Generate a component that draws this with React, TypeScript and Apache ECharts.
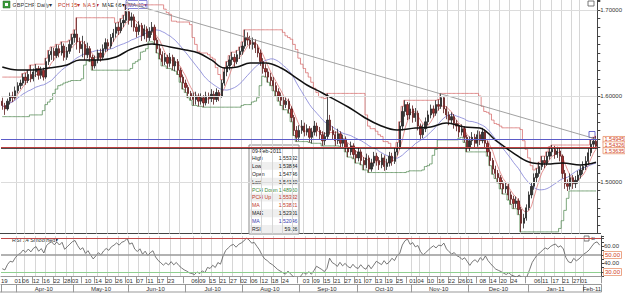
import React, { useEffect, useRef } from "react";
import * as echarts from "echarts";

// candles: [open, close, low, high]
const mar10 = [
  [1.594, 1.589, 1.584, 1.598], [1.589, 1.585, 1.578, 1.592], [1.585, 1.594, 1.583, 1.597],
  [1.594, 1.6, 1.59, 1.604], [1.6, 1.598, 1.593, 1.605], [1.598, 1.606, 1.596, 1.611],
];
const apr10 = [
  [1.606, 1.612, 1.603, 1.616], [1.612, 1.615, 1.608, 1.619], [1.615, 1.622, 1.612, 1.626],
  [1.622, 1.618, 1.613, 1.627], [1.618, 1.625, 1.615, 1.63], [1.625, 1.62, 1.616, 1.636],
  [1.62, 1.628, 1.617, 1.632], [1.628, 1.632, 1.622, 1.637], [1.632, 1.624, 1.619, 1.635],
  [1.624, 1.63, 1.62, 1.634], [1.63, 1.622, 1.618, 1.633], [1.622, 1.64, 1.62, 1.644],
  [1.64, 1.648, 1.636, 1.653], [1.648, 1.652, 1.642, 1.657], [1.652, 1.647, 1.641, 1.656],
  [1.647, 1.655, 1.644, 1.66], [1.655, 1.65, 1.645, 1.659], [1.65, 1.658, 1.647, 1.663],
  [1.658, 1.645, 1.641, 1.661], [1.645, 1.652, 1.642, 1.657], [1.652, 1.66, 1.649, 1.665],
  [1.66, 1.668, 1.656, 1.672],
];
const may10 = [
  [1.668, 1.672, 1.662, 1.677], [1.672, 1.663, 1.654, 1.691], [1.663, 1.655, 1.65, 1.668],
  [1.655, 1.66, 1.645, 1.67], [1.66, 1.648, 1.642, 1.664], [1.648, 1.655, 1.644, 1.662],
  [1.655, 1.645, 1.64, 1.658], [1.645, 1.635, 1.63, 1.648], [1.635, 1.642, 1.632, 1.647],
  [1.642, 1.65, 1.638, 1.654], [1.65, 1.645, 1.64, 1.655], [1.645, 1.655, 1.642, 1.66],
  [1.655, 1.662, 1.651, 1.667], [1.662, 1.658, 1.652, 1.666], [1.658, 1.668, 1.655, 1.672],
  [1.668, 1.673, 1.663, 1.678], [1.673, 1.68, 1.668, 1.685], [1.68, 1.676, 1.671, 1.686],
  [1.676, 1.685, 1.673, 1.69], [1.685, 1.688, 1.68, 1.694], [1.688, 1.698, 1.685, 1.706],
];
const jun10 = [
  [1.698, 1.688, 1.683, 1.701], [1.688, 1.692, 1.68, 1.697], [1.692, 1.68, 1.675, 1.695],
  [1.68, 1.675, 1.668, 1.684], [1.675, 1.682, 1.671, 1.687], [1.682, 1.67, 1.664, 1.685],
  [1.67, 1.678, 1.666, 1.683], [1.678, 1.668, 1.663, 1.681], [1.668, 1.675, 1.664, 1.68],
  [1.675, 1.68, 1.671, 1.686], [1.68, 1.665, 1.66, 1.683], [1.665, 1.655, 1.65, 1.668],
  [1.655, 1.648, 1.643, 1.66], [1.648, 1.64, 1.635, 1.652], [1.64, 1.645, 1.636, 1.65],
  [1.645, 1.638, 1.632, 1.648], [1.638, 1.645, 1.634, 1.65], [1.645, 1.635, 1.63, 1.648],
  [1.635, 1.64, 1.629, 1.645], [1.64, 1.63, 1.625, 1.643], [1.63, 1.622, 1.616, 1.633],
  [1.622, 1.615, 1.608, 1.625],
];
const jul10 = [
  [1.615, 1.61, 1.604, 1.619], [1.61, 1.603, 1.598, 1.613], [1.603, 1.6, 1.595, 1.606],
  [1.6, 1.596, 1.589, 1.604], [1.596, 1.6, 1.59, 1.605], [1.6, 1.594, 1.588, 1.603],
  [1.594, 1.598, 1.59, 1.603], [1.598, 1.592, 1.587, 1.601], [1.592, 1.6, 1.589, 1.605],
  [1.6, 1.597, 1.591, 1.604], [1.597, 1.602, 1.593, 1.608], [1.602, 1.596, 1.59, 1.606],
  [1.596, 1.604, 1.593, 1.609], [1.604, 1.6, 1.594, 1.607], [1.6, 1.615, 1.598, 1.619],
  [1.615, 1.628, 1.612, 1.633], [1.628, 1.635, 1.623, 1.64], [1.635, 1.642, 1.63, 1.647],
  [1.642, 1.645, 1.636, 1.651], [1.645, 1.64, 1.634, 1.649], [1.64, 1.648, 1.637, 1.653],
  [1.648, 1.652, 1.643, 1.657],
];
const aug10 = [
  [1.652, 1.658, 1.648, 1.663], [1.658, 1.668, 1.655, 1.677], [1.668, 1.665, 1.659, 1.674],
  [1.665, 1.66, 1.655, 1.67], [1.66, 1.662, 1.654, 1.668], [1.662, 1.656, 1.65, 1.666],
  [1.656, 1.65, 1.645, 1.66], [1.65, 1.64, 1.635, 1.654], [1.64, 1.632, 1.626, 1.644],
  [1.632, 1.628, 1.622, 1.637], [1.628, 1.622, 1.616, 1.632], [1.622, 1.618, 1.612, 1.627],
  [1.618, 1.612, 1.606, 1.622], [1.612, 1.605, 1.6, 1.616], [1.605, 1.6, 1.594, 1.609],
  [1.6, 1.595, 1.589, 1.604], [1.595, 1.59, 1.584, 1.599], [1.59, 1.594, 1.586, 1.598],
  [1.594, 1.585, 1.58, 1.597], [1.585, 1.575, 1.57, 1.588], [1.575, 1.56, 1.554, 1.578],
  [1.56, 1.552, 1.547, 1.565],
];
const sep10 = [
  [1.552, 1.56, 1.548, 1.566], [1.56, 1.565, 1.556, 1.572], [1.565, 1.558, 1.553, 1.569],
  [1.558, 1.562, 1.554, 1.567], [1.562, 1.552, 1.546, 1.565], [1.552, 1.558, 1.545, 1.563],
  [1.558, 1.565, 1.554, 1.571], [1.565, 1.56, 1.553, 1.569], [1.56, 1.555, 1.549, 1.564],
  [1.555, 1.548, 1.542, 1.559], [1.548, 1.553, 1.543, 1.558], [1.553, 1.572, 1.55, 1.603],
  [1.572, 1.56, 1.555, 1.578], [1.56, 1.555, 1.549, 1.565], [1.555, 1.548, 1.542, 1.559],
  [1.548, 1.556, 1.544, 1.562], [1.556, 1.545, 1.54, 1.559], [1.545, 1.55, 1.541, 1.555],
  [1.55, 1.54, 1.535, 1.553], [1.54, 1.535, 1.529, 1.545], [1.535, 1.542, 1.531, 1.547],
  [1.542, 1.532, 1.527, 1.545],
];
const oct10 = [
  [1.532, 1.528, 1.522, 1.537], [1.528, 1.535, 1.524, 1.54], [1.535, 1.525, 1.52, 1.538],
  [1.525, 1.52, 1.514, 1.529], [1.52, 1.528, 1.516, 1.533], [1.528, 1.515, 1.511, 1.531],
  [1.515, 1.522, 1.512, 1.527], [1.522, 1.53, 1.518, 1.535], [1.53, 1.525, 1.519, 1.534],
  [1.525, 1.52, 1.514, 1.529], [1.52, 1.528, 1.516, 1.533], [1.528, 1.518, 1.513, 1.531],
  [1.518, 1.522, 1.514, 1.527], [1.522, 1.53, 1.518, 1.535], [1.53, 1.524, 1.519, 1.534],
  [1.524, 1.535, 1.521, 1.54], [1.535, 1.54, 1.531, 1.546], [1.54, 1.565, 1.538, 1.57],
  [1.565, 1.582, 1.56, 1.588], [1.582, 1.59, 1.576, 1.595], [1.59, 1.578, 1.572, 1.593],
];
const nov10 = [
  [1.578, 1.585, 1.573, 1.592], [1.585, 1.575, 1.569, 1.589], [1.575, 1.58, 1.57, 1.586],
  [1.58, 1.565, 1.56, 1.583], [1.565, 1.555, 1.549, 1.568], [1.555, 1.562, 1.551, 1.567],
  [1.562, 1.57, 1.558, 1.575], [1.57, 1.578, 1.566, 1.583], [1.578, 1.585, 1.574, 1.59],
  [1.585, 1.58, 1.575, 1.589], [1.58, 1.59, 1.577, 1.595], [1.59, 1.588, 1.583, 1.596],
  [1.588, 1.598, 1.585, 1.603], [1.598, 1.585, 1.58, 1.6], [1.585, 1.578, 1.573, 1.588],
  [1.578, 1.572, 1.566, 1.582], [1.572, 1.576, 1.568, 1.581], [1.576, 1.568, 1.562, 1.579],
  [1.568, 1.565, 1.559, 1.572], [1.565, 1.558, 1.552, 1.568], [1.558, 1.562, 1.554, 1.567],
  [1.562, 1.552, 1.546, 1.565],
];
const dec10 = [
  [1.552, 1.54, 1.535, 1.555], [1.54, 1.548, 1.536, 1.553], [1.548, 1.552, 1.543, 1.558],
  [1.552, 1.545, 1.54, 1.556], [1.545, 1.555, 1.541, 1.56], [1.555, 1.548, 1.543, 1.559],
  [1.548, 1.558, 1.545, 1.563], [1.558, 1.545, 1.54, 1.561], [1.545, 1.535, 1.53, 1.548],
  [1.535, 1.525, 1.519, 1.538], [1.525, 1.515, 1.509, 1.528], [1.515, 1.51, 1.504, 1.519],
  [1.51, 1.505, 1.499, 1.514], [1.505, 1.498, 1.492, 1.508], [1.498, 1.492, 1.486, 1.502],
  [1.492, 1.495, 1.487, 1.5], [1.495, 1.485, 1.479, 1.498], [1.485, 1.48, 1.474, 1.489],
  [1.48, 1.475, 1.469, 1.484], [1.475, 1.478, 1.47, 1.483], [1.478, 1.468, 1.462, 1.481],
  [1.468, 1.452, 1.442, 1.471], [1.452, 1.458, 1.446, 1.463],
];
const jan11 = [
  [1.458, 1.47, 1.455, 1.474], [1.47, 1.485, 1.467, 1.489], [1.485, 1.495, 1.481, 1.5],
  [1.495, 1.505, 1.491, 1.51], [1.505, 1.51, 1.5, 1.516], [1.51, 1.518, 1.506, 1.523],
  [1.518, 1.525, 1.514, 1.53], [1.525, 1.522, 1.516, 1.53], [1.522, 1.53, 1.519, 1.535],
  [1.53, 1.535, 1.526, 1.541], [1.535, 1.538, 1.53, 1.543], [1.538, 1.532, 1.527, 1.542],
  [1.532, 1.536, 1.528, 1.541], [1.536, 1.53, 1.524, 1.54], [1.53, 1.51, 1.504, 1.532],
  [1.51, 1.498, 1.492, 1.514], [1.498, 1.495, 1.4896, 1.503], [1.495, 1.505, 1.491, 1.51],
  [1.505, 1.498, 1.492, 1.508], [1.498, 1.502, 1.493, 1.507], [1.502, 1.508, 1.498, 1.513],
];
const feb11 = [
  [1.508, 1.514, 1.504, 1.519], [1.514, 1.518, 1.509, 1.524], [1.518, 1.524, 1.514, 1.53],
  [1.524, 1.534, 1.52, 1.539], [1.534, 1.544, 1.53, 1.549], [1.544, 1.5475, 1.539, 1.552],
  [1.54746, 1.5415, 1.53884, 1.55332],
];

// MAE 66 (black): [category index, price]
const maeLine = [
  [0, 1.6337], [6, 1.6302], [12, 1.6302], [18, 1.6326], [25, 1.636], [30, 1.6419],
  [38, 1.6419], [44, 1.6453], [50, 1.6547], [58, 1.6605], [65, 1.657], [71, 1.6535],
  [76, 1.65], [81, 1.6419], [86, 1.6326], [91, 1.6337], [96, 1.6384], [102, 1.6384],
  [108, 1.6326], [114, 1.6209], [118, 1.6128], [124, 1.6035], [134, 1.5872],
  [140, 1.5756], [146, 1.5663], [153, 1.5605], [160, 1.5628], [166, 1.564],
  [172, 1.5686], [179, 1.564], [185, 1.5628], [191, 1.5488], [198, 1.5337],
  [204, 1.5233], [211, 1.5209], [217, 1.5221], [224, 1.5198], [230, 1.52301],
];
// trend line drawn on the chart
const trendLine = [[48, 1.7087], [230, 1.55]];
// values of the indicator windows before the first visible bar
const pchSeedHigh = 1.622;
const pchSeedLow = 1.576;
const pchSeedUntil = 11;
const rsiSeed = [0.0025, 0.0045];

const priceLevels = [1.54945, 1.54326, 1.5415, 1.53635];
const priceTags = ["1.54945", "1.54326", "1.53635"];
const rsiLevels = [70, 50, 30];

const dateTicks = [
  "2010-04-01", "2010-04-06", "2010-04-12", "2010-04-16", "2010-04-22", "2010-04-28",
  "2010-05-03", "2010-05-10", "2010-05-14", "2010-05-20", "2010-05-26",
  "2010-06-01", "2010-06-07", "2010-06-11", "2010-06-17", "2010-06-23",
  "2010-07-06", "2010-07-09", "2010-07-15", "2010-07-21", "2010-07-27",
  "2010-08-02", "2010-08-06", "2010-08-12", "2010-08-18", "2010-08-24",
  "2010-09-03", "2010-09-09", "2010-09-15", "2010-09-21", "2010-09-27",
  "2010-10-01", "2010-10-07", "2010-10-13", "2010-10-19", "2010-10-25",
  "2010-11-01", "2010-11-04", "2010-11-10", "2010-11-16", "2010-11-22", "2010-11-26",
  "2010-12-01", "2010-12-08", "2010-12-14", "2010-12-20", "2010-12-24",
  "2011-01-06", "2011-01-11", "2011-01-17", "2011-01-21", "2011-01-27",
  "2011-02-01",
];
const gridOnlyTicks = ["2010-06-29", "2010-08-30", "2010-12-30"];
const monthNames = ["Jan", "Feb", "Mar", "Apr", "May", "Jun", "Jul", "Aug", "Sep", "Oct", "Nov", "Dec"];

const tipRows: [string, string, string][] = [
  ["High", "1.55332", "#222"],
  ["Low", "1.53884", "#222"],
  ["Open", "1.54746", "#222"],
  ["Last", "1.54150", "#222"],
  ["PCH Down", "1.48960", "#3d8b3d"],
  ["PCH Up", "1.55332", "#c0392b"],
  ["MA", "1.53821", "#c0392b"],
  ["MAE", "1.52301", "#222"],
  ["MA", "1.52046", "#3b3bb0"],
  ["RSI", "59.26", "#222"],
];

const FONT = "Liberation Sans, Arial, sans-serif";

function weekdays(from: string, to: string): string[] {
  const out: string[] = [];
  const d = new Date(from + "T00:00:00Z");
  const end = new Date(to + "T00:00:00Z");
  while (d <= end) {
    const w = d.getUTCDay();
    if (w !== 0 && w !== 6) out.push(d.toISOString().slice(0, 10));
    d.setUTCDate(d.getUTCDate() + 1);
  }
  return out;
}

function buildOption() {
  const ohlc = [...mar10, ...apr10, ...may10, ...jun10, ...jul10, ...aug10, ...sep10, ...oct10, ...nov10, ...dec10, ...jan11, ...feb11];
  const dates = weekdays("2010-03-24", "2011-02-09");
  const closes = ohlc.map((d) => d[1]);
  const sma = (n: number) =>
    closes.map((_, i) => {
      const w = closes.slice(Math.max(0, i - n + 1), i + 1);
      return +(w.reduce((a, b) => a + b, 0) / w.length).toFixed(5);
    });
  const ma5 = sma(5);
  const ma20 = sma(20);
  const pchUp = ohlc.map((_, i) => {
    let m = i < pchSeedUntil ? pchSeedHigh : -Infinity;
    for (let j = Math.max(0, i - 14); j <= i; j++) m = Math.max(m, ohlc[j][3]);
    return m;
  });
  const pchDn = ohlc.map((_, i) => {
    let m = i < pchSeedUntil ? pchSeedLow : Infinity;
    for (let j = Math.max(0, i - 14); j <= i; j++) m = Math.min(m, ohlc[j][2]);
    return m;
  });
  let ag = rsiSeed[0];
  let al = rsiSeed[1];
  const rsi = ohlc.map((d, i) => {
    const ch = i === 0 ? d[1] - d[0] : d[1] - ohlc[i - 1][1];
    ag = (ag * 13 + Math.max(ch, 0)) / 14;
    al = (al * 13 + Math.max(-ch, 0)) / 14;
    return +(100 - 100 / (1 + ag / al)).toFixed(2);
  });

  const idxOf = new Map(dates.map((d, i) => [d, i]));
  const labelIdx = dateTicks.map((d) => idxOf.get(d)).filter((v) => v !== undefined) as number[];
  const labelSet = new Set(labelIdx);
  const gridSet = new Set([...labelIdx, ...(gridOnlyTicks.map((d) => idxOf.get(d)).filter((v) => v !== undefined) as number[])]);
  const sepSet = new Set<number>();
  for (let k = 0; k + 1 < labelIdx.length; k++) sepSet.add(Math.round((labelIdx[k] + labelIdx[k + 1]) / 2 + 0.5));
  const monthStart = new Set<number>();
  const monthMid = new Map<number, string>();
  let cur = "";
  let startI = 0;
  const flush = (endI: number) => {
    if (cur && cur !== "2010-03") {
      const mid = Math.floor((startI + endI) / 2);
      const [y, m] = cur.split("-");
      monthMid.set(mid, monthNames[+m - 1] + "-" + y.slice(2));
    }
  };
  dates.forEach((d, i) => {
    const ym = d.slice(0, 7);
    if (ym !== cur) {
      flush(i - 1);
      cur = ym;
      startI = i;
      monthStart.add(i);
    }
  });
  flush(dates.length - 1);

  const boxLabel = (text: string) => ({
    show: true,
    position: "end",
    formatter: text,
    fontSize: 6,
    fontFamily: FONT,
    color: "#d0401c",
    backgroundColor: "#fff",
    borderColor: "#e8906a",
    borderWidth: 0.8,
    padding: [0, 1, 0, 1],
    distance: 3,
  });

  const yMin = 1.44;
  const yMax = 1.71163;
  const mainH = 233.6;
  const yPix = (p: number) => (mainH * (yMax - p)) / (yMax - yMin);

  const graphics: any[] = [];
  // legend
  graphics.push({ type: "rect", shape: { x: 3, y: 1, width: 7, height: 7 }, style: { fill: "#3c9a3c", stroke: "#2a6a2a", lineWidth: 0.5 } });
  graphics.push({ type: "rect", shape: { x: 5, y: 3, width: 3, height: 3 }, style: { fill: "#fff" } });
  const leg: [string, number, string][] = [
    ["GBPCHF Daily▾", 12.5, "#333"],
    ["PCH 15▾", 58, "#c0392b"],
    ["MA 5▾", 83, "#c0392b"],
    ["MAE 66▾", 102, "#222"],
    ["MA 20▾", 128, "#3b3bb0"],
  ];
  leg.forEach(([t, x, c]) =>
    graphics.push({ type: "text", x, y: 4.5, style: { text: t, fill: c, fontSize: 5.5, fontFamily: FONT, verticalAlign: "middle" } })
  );
  graphics.push({ type: "rect", shape: { x: 126, y: 0.5, width: 21, height: 8 }, style: { fill: "none", stroke: "#6a6ad0", lineWidth: 0.8 } });
  graphics.push({ type: "rect", shape: { x: 588, y: 1, width: 6, height: 5 }, style: { fill: "#fff", stroke: "#555", lineWidth: 0.8 } });
  // trend line handle
  graphics.push({ type: "rect", shape: { x: 589, y: 131.5, width: 6, height: 6 }, style: { fill: "none", stroke: "#4545c0", lineWidth: 0.8 } });
  // right price tags
  priceTags.forEach((t, i) => {
    const p = [priceLevels[0], priceLevels[1], priceLevels[3]][i];
    const cy = yPix(p);
    graphics.push({ type: "rect", shape: { x: 603, y: cy - 3, width: 22, height: 6 }, style: { fill: "#fff", stroke: "#e8906a", lineWidth: 0.8 } });
    graphics.push({ type: "text", x: 604.5, y: cy, style: { text: t, fill: "#d0401c", fontSize: 5.5, fontFamily: FONT, verticalAlign: "middle" } });
  });
  // panel separator
  graphics.push({ type: "line", shape: { x1: 0, y1: 233.5, x2: 601, y2: 233.5 }, style: { stroke: "#444", lineWidth: 1 } });
  // RSI panel labels
  graphics.push({ type: "text", x: 12, y: 239.5, style: { text: "RSI 14 Smoothed▾", fill: "#333", fontSize: 5.5, fontFamily: FONT, verticalAlign: "middle" } });
  graphics.push({ type: "rect", shape: { x: 584, y: 236, width: 5, height: 5 }, style: { fill: "#fff", stroke: "#555", lineWidth: 0.8 } });
  graphics.push({ type: "text", x: 591, y: 238.5, style: { text: "×", fill: "#222", fontSize: 7, fontFamily: FONT, verticalAlign: "middle" } });
  // bottom box lines
  graphics.push({ type: "line", shape: { x1: 0, y1: 292, x2: 601, y2: 292 }, style: { stroke: "#999", lineWidth: 1 } });
  graphics.push({ type: "text", x: 1, y: 280.5, style: { text: "19", fill: "#333", fontSize: 6, fontFamily: FONT, verticalAlign: "middle" } });
  // data box
  const bx = 249, by = 145, bw = 50, rowH = 7.9;
  graphics.push({ type: "rect", shape: { x: bx, y: by, width: bw, height: 89 }, style: { fill: "#fff", stroke: "#8a8a8a", lineWidth: 1 } });
  graphics.push({ type: "text", x: bx + 3, y: by + 5.5, style: { text: "09-Feb-2011", fill: "#222", fontSize: 5.2, fontFamily: FONT, verticalAlign: "middle" } });
  tipRows.forEach(([k, v, c], i) => {
    const ry = by + 9 + i * rowH;
    if (i % 2 === 1) graphics.push({ type: "rect", shape: { x: bx + 1, y: ry, width: bw - 2, height: rowH }, style: { fill: "#efefef" } });
    graphics.push({ type: "text", x: bx + 3, y: ry + rowH / 2, style: { text: k, fill: c, fontSize: 5.2, fontFamily: FONT, verticalAlign: "middle" } });
    graphics.push({ type: "text", x: bx + bw - 1.5, y: ry + rowH / 2, style: { text: v, fill: c, fontSize: 5.2, fontFamily: FONT, verticalAlign: "middle", align: "right" } });
  });

  const gridLine = { show: true, interval: (i: number) => gridSet.has(i), lineStyle: { color: "#d6d6d6", width: 1 } };

  return {
    animation: false,
    backgroundColor: "#fff",
    textStyle: { fontFamily: FONT },
    grid: [
      { left: 1, right: 24, top: 0, height: mainH },
      { left: 1, right: 24, top: 236, height: 40.25 },
    ],
    xAxis: [
      { type: "category", gridIndex: 0, data: dates, boundaryGap: true, axisLine: { show: false }, axisTick: { show: false }, axisLabel: { show: false }, splitLine: gridLine },
      {
        type: "category", gridIndex: 1, data: dates, boundaryGap: true,
        axisLine: { show: true, lineStyle: { color: "#999", width: 1 } },
        axisTick: { show: false },
        axisLabel: { interval: (i: number) => labelSet.has(i), formatter: (v: string) => v.slice(8, 10), fontSize: 6, color: "#333", margin: 2, fontFamily: FONT },
        splitLine: gridLine,
      },
      {
        type: "category", gridIndex: 1, data: dates, boundaryGap: true, position: "bottom",
        axisLine: { show: false },
        axisTick: { show: true, interval: (i: number) => sepSet.has(i), length: 7, lineStyle: { color: "#999", width: 1 } },
        axisLabel: { show: false },
      },
      {
        type: "category", gridIndex: 1, data: dates, boundaryGap: true, position: "bottom", offset: 8,
        axisLine: { show: true, lineStyle: { color: "#999", width: 1 } },
        axisTick: { show: true, interval: (i: number) => monthStart.has(i), length: 8, lineStyle: { color: "#999", width: 1 } },
        axisLabel: { interval: (i: number) => monthMid.has(i), formatter: (_v: string, i: number) => monthMid.get(i) || "", fontSize: 6, color: "#333", margin: 2, fontFamily: FONT },
      },
    ],
    yAxis: [
      {
        type: "value", gridIndex: 0, position: "right", min: yMin, max: yMax, interval: 0.01,
        axisLine: { show: true, lineStyle: { color: "#444", width: 1 } },
        axisTick: { show: true, length: 3, lineStyle: { color: "#444" } },
        axisLabel: {
          fontSize: 6, color: "#333", margin: 3, fontFamily: FONT,
          formatter: (v: number) => (Math.abs(v * 10 - Math.round(v * 10)) < 1e-6 ? v.toFixed(5) : ""),
        },
        splitLine: { show: false },
      },
      {
        type: "value", gridIndex: 1, position: "right", min: 25, max: 72.35, interval: 5,
        axisLine: { show: true, lineStyle: { color: "#444", width: 1 } },
        axisTick: { show: true, length: 3, lineStyle: { color: "#444" } },
        axisLabel: { fontSize: 6, color: "#333", margin: 3, fontFamily: FONT, formatter: (v: number) => (v === 60 || v === 40 ? v.toFixed(2) : "") },
        splitLine: { show: false },
      },
    ],
    series: [
      {
        type: "candlestick", xAxisIndex: 0, yAxisIndex: 0, data: ohlc, barWidth: 1.8,
        itemStyle: { color: "#333333", color0: "#a83232", borderColor: "#222222", borderColor0: "#5a1a1a", borderWidth: 0.8 },
        markLine: {
          silent: true, symbol: ["none", "none"], animation: false,
          label: { show: false },
          data: [
            { yAxis: 1.5, lineStyle: { color: "#dcdcdc", width: 1, type: "solid" } },
            { yAxis: 1.6, lineStyle: { color: "#dcdcdc", width: 1, type: "solid" } },
            { yAxis: 1.7, lineStyle: { color: "#dcdcdc", width: 1, type: "solid" } },
            { yAxis: priceLevels[0], lineStyle: { color: "#5b5bc8", width: 1, type: "solid" } },
            { yAxis: priceLevels[1], lineStyle: { color: "#111", width: 1.6, type: "solid" } },
            { yAxis: priceLevels[2], lineStyle: { color: "#7a2a2a", width: 1, type: "dotted" } },
            { yAxis: priceLevels[3], lineStyle: { color: "#c04040", width: 1, type: "solid" } },
          ],
        },
        z: 3,
      },
      { type: "line", xAxisIndex: 0, yAxisIndex: 0, data: pchUp, step: "middle", showSymbol: false, lineStyle: { color: "#d87070", width: 0.8 }, z: 2 },
      { type: "line", xAxisIndex: 0, yAxisIndex: 0, data: pchDn, step: "middle", showSymbol: false, lineStyle: { color: "#5a8f5a", width: 0.8 }, z: 2 },
      { type: "line", xAxisIndex: 0, yAxisIndex: 0, data: ma5, showSymbol: false, lineStyle: { color: "#e07b7b", width: 0.8 }, z: 2 },
      { type: "line", xAxisIndex: 0, yAxisIndex: 0, data: ma20, showSymbol: false, lineStyle: { color: "#7f7fd6", width: 0.8 }, z: 2 },
      { type: "line", xAxisIndex: 0, yAxisIndex: 0, data: maeLine, smooth: 0.4, showSymbol: false, lineStyle: { color: "#111", width: 1.5 }, z: 4 },
      { type: "line", xAxisIndex: 0, yAxisIndex: 0, data: trendLine, showSymbol: false, lineStyle: { color: "#8a8a8a", width: 0.8 }, z: 4 },
      {
        type: "line", xAxisIndex: 1, yAxisIndex: 1, data: rsi, showSymbol: false, lineStyle: { color: "#555", width: 0.8 }, z: 3,
        markLine: {
          silent: true, symbol: ["none", "none"], animation: false,
          data: [
            { yAxis: rsiLevels[0], lineStyle: { color: "#c04848", width: 1, type: "solid" }, label: { show: false } },
            { yAxis: rsiLevels[1], lineStyle: { color: "#999", width: 1.6, type: "solid" }, label: boxLabel("50.00") },
            { yAxis: rsiLevels[2], lineStyle: { color: "#8fcf8f", width: 1.2, type: "solid" }, label: boxLabel("30.00") },
          ],
        },
      },
    ],
    graphic: graphics,
  };
}

export default function App() {
  const ref = useRef<HTMLDivElement>(null);
  useEffect(() => {
    document.body.style.margin = "0";
    const chart = echarts.init(ref.current as HTMLDivElement, null, { renderer: "svg" });
    chart.setOption(buildOption() as any);
    return () => chart.dispose();
  }, []);
  return <div ref={ref} style={{ width: 625, height: 293 }} />;
}
